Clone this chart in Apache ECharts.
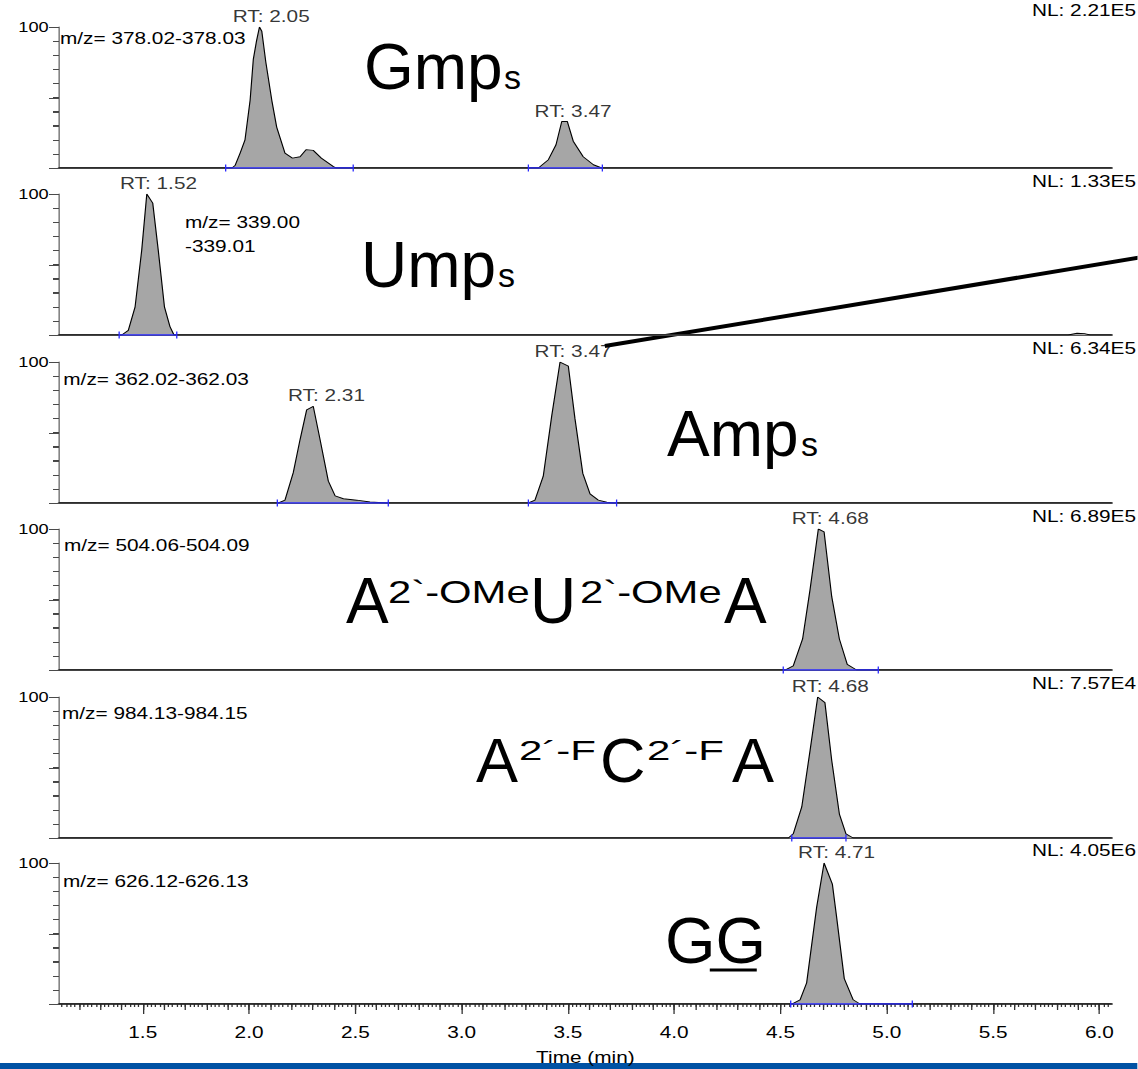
<!DOCTYPE html>
<html><head><meta charset="utf-8">
<script src="https://cdn.jsdelivr.net/npm/echarts@6/dist/echarts.min.js"></script>
<style>
html,body{margin:0;padding:0;background:#fff;overflow:hidden;}
#wrap{width:1138px;height:1069px;overflow:hidden;position:relative;background:#fff;}
#chart{position:absolute;left:0;top:0;height:1069px;transform-origin:0 0;}
</style></head>
<body><div id="wrap"><div id="chart"></div></div>
<script>
// ---------------- DATA ----------------
const timeMin = 1.106, timeMax = 6.058;
const timeTickValues = [1.5, 2.0, 2.5, 3.0, 3.5, 4.0, 4.5, 5.0, 5.5, 6.0];
const timeTickLabels = ['1.5', '2.0', '2.5', '3.0', '3.5', '4.0', '4.5', '5.0', '5.5', '6.0'];
const abundanceMinorTicks = [0, 10, 20, 30, 40, 50, 60, 70, 80, 90, 100];
const abundanceMajorTicks = [0, 50, 100];
const abundanceLabelValues = [100];
const nlLabels = ['NL: 2.21E5', 'NL: 1.33E5', 'NL: 6.34E5', 'NL: 6.89E5', 'NL: 7.57E4', 'NL: 4.05E6'];
const mzLabels = ['m/z= 378.02-378.03', 'm/z= 339.00\n-339.01', 'm/z= 362.02-362.03', 'm/z= 504.06-504.09', 'm/z= 984.13-984.15', 'm/z= 626.12-626.13'];

// traces: retention time (min) / relative abundance (%)
const gmpT = [1.106, 1.920, 1.935, 1.958, 1.981, 2.005, 2.020, 2.035, 2.049, 2.060, 2.079, 2.107, 2.130, 2.169, 2.204, 2.240, 2.268, 2.302, 2.340, 2.397, 2.410, 3.361, 3.408, 3.444, 3.471, 3.497, 3.525, 3.572, 3.620, 3.659, 6.058];
const gmpI = [0, 0, 2, 10.6, 20, 48, 77, 90, 100, 97, 75, 48, 29, 10.6, 7, 8, 13, 12.5, 7, 1, 0, 0, 5.9, 16.5, 33, 33, 19, 8, 2.3, 0, 0];
const umpT = [1.106, 1.401, 1.432, 1.464, 1.495, 1.519, 1.547, 1.573, 1.602, 1.628, 1.647, 5.853, 5.895, 5.930, 5.957, 6.058];
const umpI = [0, 0, 3.3, 20, 60, 100, 93.5, 60, 20, 6, 0, 0, 1.2, 1.0, 0, 0];
const ampT = [1.106, 2.138, 2.169, 2.208, 2.240, 2.271, 2.302, 2.334, 2.373, 2.405, 2.444, 2.507, 2.569, 2.648, 3.314, 3.345, 3.384, 3.424, 3.463, 3.502, 3.533, 3.570, 3.604, 3.643, 3.683, 3.714, 6.058];
const ampI = [0, 0, 2, 21.5, 45, 66, 68.6, 45, 15.5, 5, 3, 2, 0.7, 0, 0, 2, 19, 62, 100, 97, 60, 21, 6.5, 2, 0.5, 0, 0];
const omeT = [1.106, 4.521, 4.560, 4.604, 4.639, 4.678, 4.705, 4.741, 4.777, 4.814, 4.858, 6.058];
const omeI = [0, 0, 3, 22, 57, 100, 98, 52, 22, 4, 0, 0];
const fT = [1.106, 4.537, 4.560, 4.600, 4.639, 4.675, 4.709, 4.741, 4.777, 4.808, 4.842, 6.058];
const fI = [0, 0, 3, 22, 62, 100, 96, 55, 17, 3, 0, 0];
const ggT = [1.106, 4.553, 4.592, 4.623, 4.670, 4.705, 4.744, 4.764, 4.800, 4.842, 4.874, 6.058];
const ggI = [0, 0, 3, 15, 68.5, 100, 85, 61.6, 18, 3, 0, 0];

// apex labels [time, %, text]
const rtGmp = [[2.05, 100, 'RT: 2.05'], [3.47, 33, 'RT: 3.47']];
const rtUmp = [[1.52, 100, 'RT: 1.52']];
const rtAmp = [[2.31, 68.6, 'RT: 2.31'], [3.47, 100, 'RT: 3.47']];
const rtOme = [[4.68, 100, 'RT: 4.68']];
const rtF = [[4.68, 100, 'RT: 4.68']];
const rtGG = [[4.71, 100, 'RT: 4.71']];

// integration windows (start, end) in min
const intGmp = [[1.89, 2.49], [3.314, 3.662]];
const intUmp = [[1.389, 1.66]];
const intAmp = [[2.133, 2.655], [3.314, 3.729]];
const intOme = [[4.513, 4.96]];
const intF = [[4.553, 4.808]];
const intGG = [[4.548, 5.12]];

// ---------------- LAYOUT ----------------
const S = 1.3;                       // horizontal stretch of the exported chromatogram
const W = 1138 / S, H = 1069;
const dom = document.getElementById('chart');
dom.style.width = W + 'px';
dom.style.transform = 'scaleX(' + S + ')';
const FONT = "'Liberation Sans', Arial, Helvetica, sans-serif";
const plotL = 59, plotR = 1111.7;
const gridTops = [27, 194, 362, 529, 697, 863];
const gridH = 141;

const panels = [
  { t: gmpT, v: gmpI, rt: rtGmp, integ: intGmp },
  { t: umpT, v: umpI, rt: rtUmp, integ: intUmp },
  { t: ampT, v: ampI, rt: rtAmp, integ: intAmp },
  { t: omeT, v: omeI, rt: rtOme, integ: intOme },
  { t: fT, v: fI, rt: rtF, integ: intF },
  { t: ggT, v: ggI, rt: rtGG, integ: intGG }
];

const grids = [], xAxes = [], yAxes = [], series = [];
panels.forEach((p, i) => {
  grids.push({ left: plotL / S, right: (1138 - plotR) / S, top: gridTops[i], height: gridH, containLabel: false });
  const last = i === panels.length - 1;
  xAxes.push({
    type: 'value', gridIndex: i, min: timeMin, max: timeMax, position: 'bottom',
    axisLine: { show: true, onZero: false, lineStyle: { color: '#5a5a5a', width: 2 } },
    axisTick: last ? { show: true, customValues: timeTickValues, length: 10, lineStyle: { color: '#333', width: 1 } } : { show: false },
    axisLabel: last ? { show: true, customValues: timeTickValues, margin: 20, color: '#000', fontSize: 16, fontFamily: FONT,
      formatter: v => { const k = timeTickValues.findIndex(x => Math.abs(x - v) < 1e-6); return k >= 0 ? timeTickLabels[k] : ''; } } : { show: false },
    splitLine: { show: false },
    name: last ? 'Time (min)' : '', nameLocation: 'middle', nameGap: 45,
    nameTextStyle: { color: '#000', fontSize: 16, fontFamily: FONT }
  });
  yAxes.push({
    type: 'value', gridIndex: i, min: 0, max: 100, position: 'left',
    axisLine: { show: true, onZero: false, lineStyle: { color: '#666', width: 1 } },
    axisTick: { show: true, customValues: abundanceMinorTicks, length: 6 / S, lineStyle: { color: '#444', width: 1 } },
    axisLabel: { show: true, customValues: abundanceLabelValues, margin: 8, color: '#000', fontSize: 14, fontFamily: FONT,
      verticalAlign: 'middle', padding: [8, 0, 0, 0],
      formatter: v => String(Math.round(v)) },
    splitLine: { show: false }
  });
});
panels.forEach((p, i) => {
  series.push({
    type: 'line', xAxisIndex: i, yAxisIndex: i, symbol: 'none', silent: true,
    data: p.t.map((t, k) => [t, p.v[k]]),
    lineStyle: { color: '#000', width: 0.9 },
    areaStyle: { color: '#a6a6a6', opacity: 1 },
    z: 3
  });
  p.integ.forEach(w => {
    series.push({
      type: 'line', xAxisIndex: i, yAxisIndex: i, silent: true,
      data: [[w[0], 0], [w[1], 0]],
      symbol: 'rect', symbolSize: [1, 7], showSymbol: true,
      itemStyle: { color: '#2a2aff' },
      lineStyle: { color: '#2a2aff', width: 1.5 },
      z: 4
    });
  });
  series.push({
    type: 'scatter', xAxisIndex: i, yAxisIndex: i, silent: true,
    data: p.rt, symbolSize: 1, itemStyle: { color: 'transparent' },
    label: { show: true, position: 'top', distance: 2, offset: [11.5 / S, 0],
      formatter: q => q.data[2], color: '#000', fontSize: 16, fontFamily: FONT },
    z: 5
  });
});

// minor / medium ticks of the time axis (bottom panel)
const midTicks = [], minorTicks = [];
for (let k = 12; k <= 60; k++) midTicks.push(+(k * 0.1).toFixed(2));
for (let k = 56; k <= 302; k++) minorTicks.push(+(k * 0.02).toFixed(2));
[[midTicks, 6], [minorTicks, 3]].forEach(([vals, len]) => {
  xAxes.push({
    type: 'value', gridIndex: 5, min: timeMin, max: timeMax, position: 'bottom',
    axisLine: { show: false, onZero: false }, axisLabel: { show: false }, splitLine: { show: false },
    axisTick: { show: true, customValues: vals, length: len, lineStyle: { color: '#333', width: 1 } }
  });
});

// ---------- text annotations (chart space, stretched like the export) ----------
const nlCenters = [10, 181.5, 348.5, 516, 683.7, 850.8];
const mzPos = [[60, 34.7], [185, 218.7], [63.3, 375.7], [64, 542], [62, 709.5], [63, 877.4]];
const graphics = [];
nlLabels.forEach((t, i) => graphics.push({
  type: 'text', z: 50, x: 1136 / S, y: nlCenters[i],
  style: { text: t, align: 'right', verticalAlign: 'middle', fill: '#000', font: '16px ' + FONT }
}));
mzLabels.forEach((t, i) => graphics.push({
  type: 'text', z: 50, x: mzPos[i][0] / S, y: mzPos[i][1] - 8,
  style: { text: t, align: 'left', verticalAlign: 'top', fill: '#000', font: '16px ' + FONT, lineHeight: 23.7 }
}));

// ---------- slide overlay (screen space: undo stretch) ----------
const big = (text, x, base, fs, sx) => ({
  type: 'text', x: x, y: base - 0.347 * fs, scaleX: sx || 1,
  style: { text: text, fill: '#000', font: fs + 'px ' + FONT, align: 'left', verticalAlign: 'middle' }
});
const overlay = {
  type: 'group', x: 0, y: 0, scaleX: 1 / S, z: 60,
  children: [
    big('Gmp', 364, 89, 64), big('s', 504, 89, 34),
    big('Ump', 361, 287, 64), big('s', 498, 287, 34),
    big('Amp', 667, 456, 64), big('s', 801, 456, 34),
    big('A', 346, 623.3, 64), big('2`-OMe', 388, 603.3, 31, 1.35),
    big('U', 530, 623.3, 64), big('2`-OMe', 580, 603.3, 31, 1.35),
    big('A', 724, 623.3, 64),
    big('A', 476, 781.7, 63), big('2´-F', 519, 760, 28, 1.5),
    big('C', 600, 781.7, 63), big('2´-F', 647, 760, 28, 1.5),
    big('A', 732, 781.7, 63),
    big('GG', 665, 963.3, 65),
    { type: 'rect', shape: { x: 710, y: 968.5, width: 47, height: 3 }, style: { fill: '#000' } },
    { type: 'line', shape: { x1: 605, y1: 346, x2: 1140, y2: 257.5 }, style: { stroke: '#000', lineWidth: 4 } },
    { type: 'rect', shape: { x: 0, y: 1063, width: 1138, height: 6 }, style: { fill: '#0052a4' } }
  ]
};
graphics.push(overlay);

const chart = echarts.init(dom, null, { renderer: 'svg', width: W, height: H });
chart.setOption({
  animation: false,
  backgroundColor: '#fff',
  grid: grids, xAxis: xAxes, yAxis: yAxes, series: series,
  graphic: { elements: graphics }
});

// abundance-axis tick marks, placed through each panel's y scale
const tickEls = [];
panels.forEach((p, i) => {
  const x0 = chart.convertToPixel({ xAxisIndex: i }, timeMin);
  abundanceMinorTicks.forEach(v => {
    const y = Math.round(chart.convertToPixel({ yAxisIndex: i }, v)) + 0.5;
    const len = abundanceMajorTicks.indexOf(v) >= 0 ? 10 : 6;
    tickEls.push({ type: 'line', z: 40, silent: true,
      shape: { x1: x0 - len / S, y1: y, x2: x0, y2: y },
      style: { stroke: '#4a4a4a', lineWidth: 1 } });
  });
});
chart.setOption({ graphic: { elements: graphics.concat(tickEls) } });
</script>
</body></html>
